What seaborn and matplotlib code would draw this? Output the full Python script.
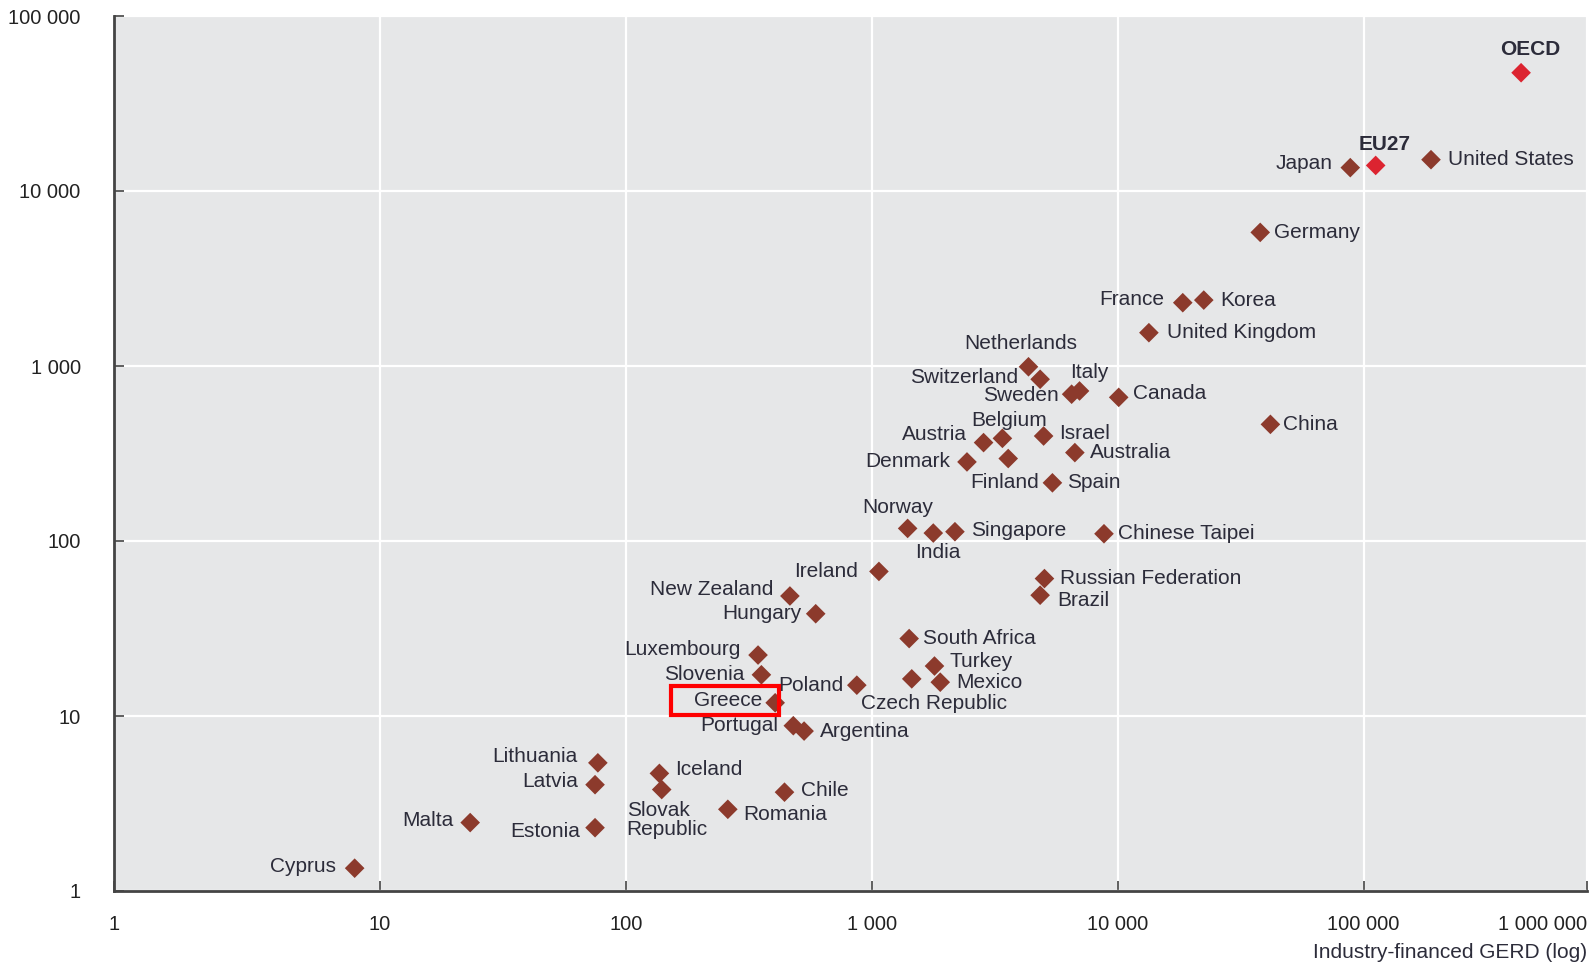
import pandas as pd
import matplotlib
matplotlib.use("Agg")
import matplotlib.pyplot as plt
import seaborn as sns
from matplotlib.patches import Rectangle
from matplotlib.ticker import FixedLocator, FixedFormatter, FuncFormatter, NullLocator

# ====================== data ======================

countries = [
    "OECD", "EU27", "Japan", "United States", "Germany", "France", "Korea",
    "United Kingdom", "China", "Netherlands", "Switzerland", "Italy", "Sweden",
    "Canada", "Belgium", "Austria", "Israel", "Australia", "Denmark", "Finland",
    "Spain", "Norway", "India", "Singapore", "Chinese Taipei", "Ireland",
    "Russian Federation", "Brazil", "New Zealand", "Hungary", "South Africa",
    "Luxembourg", "Turkey", "Slovenia", "Czech Republic", "Mexico", "Poland",
    "Greece", "Portugal", "Argentina", "Lithuania", "Latvia", "Iceland",
    "Slovak Republic", "Chile", "Romania", "Malta", "Estonia", "Cyprus",
]

gerd_industry = [
    437000, 112000, 88300, 188000, 38000, 18400, 22400,
    13400, 41800, 4340, 4840, 7000, 6500,
    10100, 3400, 2850, 5000, 6700, 2440, 3590,
    5430, 1400, 1780, 2180, 8800, 1070,
    5040, 4840, 465, 592, 1420,
    345, 1800, 356, 1455, 1900, 870,
    405, 480, 531, 77, 75, 137,
    140, 442, 260, 23.3, 75, 7.9,
]

y_values = [
    47400, 14000, 13600, 15100, 5800, 2300, 2380,
    1550, 464, 990, 840, 720, 690,
    662, 386, 365, 398, 320, 283, 296,
    215, 118, 111, 113, 110, 67,
    61, 49, 48.5, 38.4, 27.7,
    22.3, 19.3, 17.2, 16.3, 15.6, 15.0,
    11.9, 8.8, 8.2, 5.4, 4.05, 4.7,
    3.8, 3.67, 2.93, 2.46, 2.3, 1.35,
]

aggregates = ["OECD", "EU27"]

# label placement: (dx px, dy px up, horizontal alignment)
label_pos = {
    "OECD": (9, 23, "center"), "EU27": (9, 21, "center"),
    "Japan": (-18, 4, "right"), "United States": (17, 0, "left"),
    "Germany": (14, 0, "left"), "France": (-19, 3, "right"),
    "Korea": (16, 0, "left"), "United Kingdom": (18, 0, "left"),
    "China": (13, 0, "left"), "Netherlands": (-8, 23, "center"),
    "Switzerland": (-22, 2, "right"), "Italy": (10, 18, "center"),
    "Sweden": (-13, -1, "right"), "Canada": (14, 4, "left"),
    "Belgium": (7, 18, "center"), "Austria": (-17, 8, "right"),
    "Israel": (16, 3, "left"), "Australia": (15, 0, "left"),
    "Denmark": (-17, 0, "right"), "Finland": (-4, -24, "center"),
    "Spain": (15, 0, "left"), "Norway": (-10, 21, "center"),
    "India": (5, -19, "center"), "Singapore": (16, 1, "left"),
    "Chinese Taipei": (14, 0, "left"), "Ireland": (-21, 0, "right"),
    "Russian Federation": (16, 0, "left"), "Brazil": (17, -5, "left"),
    "New Zealand": (-17, 6, "right"), "Hungary": (-14, 0, "right"),
    "South Africa": (14, 0, "left"), "Luxembourg": (-17, 6, "right"),
    "Turkey": (15, 5, "left"), "Slovenia": (-17, 0, "right"),
    "Czech Republic": (22, -25, "center"), "Mexico": (16, 0, "left"),
    "Poland": (-13, 0, "right"), "Greece": (-13, 2, "right"),
    "Portugal": (-15, 0, "right"), "Argentina": (16, 0, "left"),
    "Lithuania": (-20, 6, "right"), "Latvia": (-17, 3, "right"),
    "Iceland": (16, 4, "left"), "Slovak Republic": (-35, -30, "left"),
    "Chile": (16, 2, "left"), "Romania": (15, -5, "left"),
    "Malta": (-17, 2, "right"), "Estonia": (-15, -4, "right"),
    "Cyprus": (-19, 2, "right"),
}

df = pd.DataFrame({"country": countries, "gerd": gerd_industry, "value": y_values})
df["group"] = ["aggregate" if c in aggregates else "country" for c in countries]

# ====================== style ======================

sns.set_theme(style="darkgrid", rc={
    "axes.facecolor": "#e6e7e8",
    "grid.color": "white",
    "grid.linewidth": 1.6,
    "axes.edgecolor": "#444444",
})
plt.rcParams["font.family"] = ["Liberation Sans", "DejaVu Sans"]

TEXT = "#2c2c3a"
PX = 0.72  # pixels -> points at dpi 100

fig = plt.figure(figsize=(15.89, 9.64), dpi=100)
ax = fig.add_axes([114 / 1589, 73 / 964, (1587 - 114) / 1589, (891 - 16) / 964])

sns.scatterplot(data=df, x="gerd", y="value", hue="group",
                palette={"country": "#8c3a2c", "aggregate": "#dc2430"},
                marker="D", s=100, linewidth=0, legend=False, ax=ax, zorder=3)

ax.set_xscale("log")
ax.set_yscale("log")
x_left, x_right = 0.83, 8.1e5
ax.set_xlim(x_left, x_right)
ax.set_ylim(1, 1e5)

# ====================== axes, ticks, grid ======================

ax.xaxis.set_major_locator(FixedLocator([x_left, 10, 100, 1e3, 1e4, 1e5, x_right]))
ax.xaxis.set_major_formatter(FixedFormatter(["1", "10", "100", "1 000", "10 000", "100 000", "1 000 000"]))
ax.xaxis.set_minor_locator(NullLocator())
ax.yaxis.set_major_locator(FixedLocator([1, 10, 100, 1e3, 1e4, 1e5]))
ax.yaxis.set_major_formatter(FuncFormatter(lambda v, p: f"{v:,.0f}".replace(",", " ")))
ax.yaxis.set_minor_locator(NullLocator())

for side in ["top", "right"]:
    ax.spines[side].set_visible(False)
for side in ["left", "bottom"]:
    ax.spines[side].set_visible(True)
    ax.spines[side].set_linewidth(2)
    ax.spines[side].set_color("#444444")

ax.tick_params(axis="both", which="major", direction="in", length=7, width=1.2,
               color="#444444", labelsize=14.5, labelcolor="#222222")
ax.tick_params(axis="x", pad=17, bottom=True)
ax.tick_params(axis="y", pad=24, left=True)
xlabels = ax.get_xticklabels()
xlabels[-1].set_ha("right")
ax.grid(True, which="major", color="white", linewidth=1.6)
ax.set_axisbelow(True)

ax.set_xlabel("")
ax.set_ylabel("")
fig.text(1587 / 1589, 1 - 953 / 964, "Industry-financed GERD (log)",
         ha="right", va="center", fontsize=15, color="#2c2c3a")

# ====================== point labels ======================

texts = {}
for name, x, y in zip(countries, gerd_industry, y_values):
    dx, dy, ha = label_pos[name]
    label = "Slovak\nRepublic" if name == "Slovak Republic" else name
    t = ax.annotate(label, (x, y), xytext=(dx * PX, dy * PX), textcoords="offset points",
                    ha=ha, va="center", fontsize=15, color=TEXT,
                    fontweight="bold" if name in aggregates else "normal",
                    linespacing=1.0, zorder=4)
    texts[name] = t

# red highlight box around Greece
fig.canvas.draw()
bb = texts["Greece"].get_window_extent(renderer=fig.canvas.get_renderer())
box = Rectangle((bb.x0 - 23, bb.y0 - 5), bb.width + 40, bb.height + 10,
                transform=None, fill=False, edgecolor="#ff0000", linewidth=3, zorder=5)
fig.patches.append(box)

fig.savefig("out.png", dpi=100)
